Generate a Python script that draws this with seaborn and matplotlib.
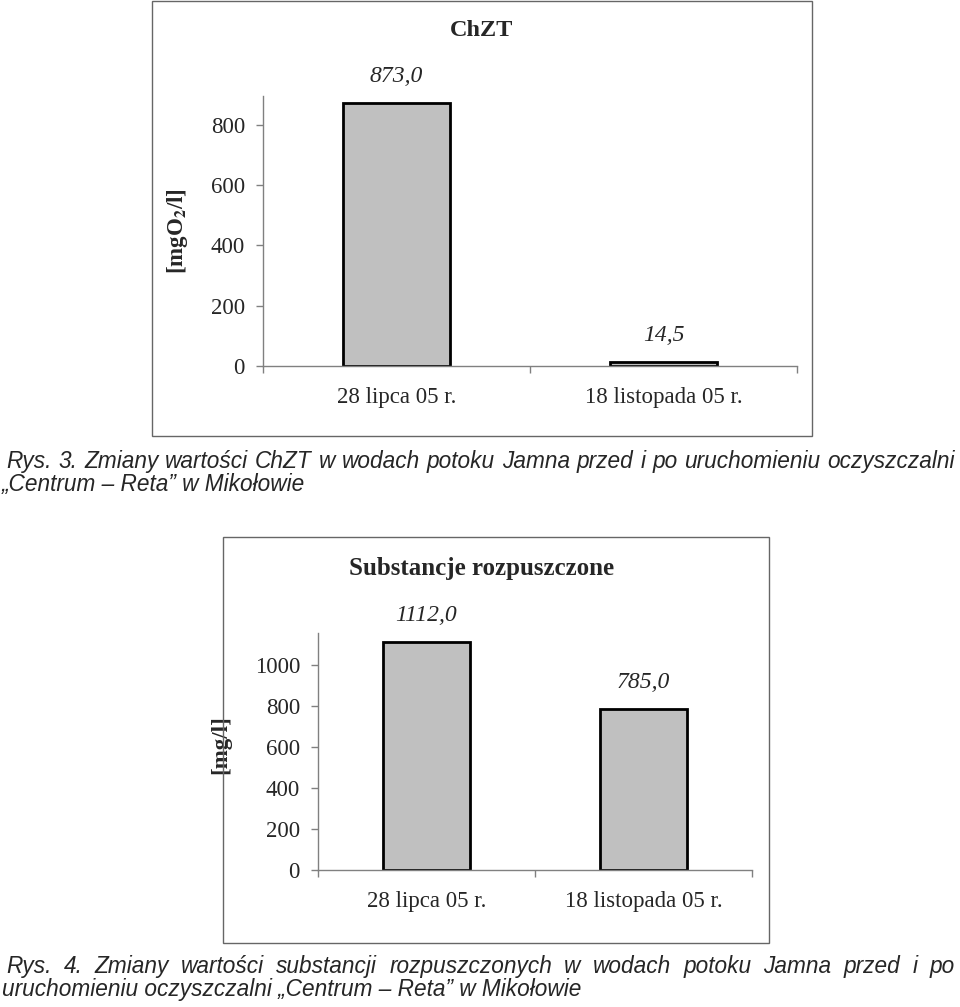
import matplotlib
matplotlib.use("Agg")
import matplotlib.pyplot as plt
import seaborn as sns
import pandas as pd
from matplotlib.patches import Rectangle

# ---------------- data ----------------
dates = ["28 lipca 05 r.", "18 listopada 05 r."]
chzt_values = [873.0, 14.5]
subst_values = [1112.0, 785.0]
chzt_title = "ChZT"
subst_title = "Substancje rozpuszczone"
chzt_ylabel = r"[mgO$_{\mathbf{2}}$/l]"
subst_ylabel = "[mg/l]"
chzt_ticks = [0, 200, 400, 600, 800]
subst_ticks = [0, 200, 400, 600, 800, 1000]
caption3 = ["Rys. 3. Zmiany wartości ChZT w wodach potoku Jamna przed i po uruchomieniu oczyszczalni",
            "„Centrum – Reta” w Mikołowie"]
caption4 = ["Rys. 4. Zmiany wartości substancji rozpuszczonych w wodach potoku Jamna przed i po",
            "uruchomieniu oczyszczalni „Centrum – Reta” w Mikołowie"]

sns.set_theme(style="white")
plt.rcParams["font.family"] = ["Liberation Serif", "DejaVu Serif"]
plt.rcParams["mathtext.fontset"] = "stix"

W, H = 960, 1007
fig = plt.figure(figsize=(W / 100, H / 100), dpi=100)
fig.patch.set_facecolor("white")

def fx(px):
    return px / W

def fy(py):
    return 1 - py / H

GRAY = "#808080"
TICK_FS = 16.5

def frame(x0, y0, x1, y1):
    fig.add_artist(Rectangle((fx(x0), fy(y1)), fx(x1) - fx(x0), fy(y0) - fy(y1),
                             transform=fig.transFigure, fill=False,
                             edgecolor="#666666", linewidth=1.0))

def chart(left, right, top, bottom, ymax, values, ticks, title, title_xy, title_fs,
          ylabel, ylab_x, ylab_y):
    ax = fig.add_axes([fx(left), fy(bottom), fx(right) - fx(left), (bottom - top) / H])
    df = pd.DataFrame({"date": dates, "value": values})
    sns.barplot(data=df, x="date", y="value", ax=ax, color="#C0C0C0",
                saturation=1, width=0.4, edgecolor="black", linewidth=2)
    for p in ax.patches:
        p.set_facecolor("#C0C0C0")
    ax.set_xlim(-0.5, 1.5)
    ax.set_ylim(0, ymax)
    ax.set_yticks(ticks)
    ax.set_yticklabels([str(t) for t in ticks], fontsize=TICK_FS)
    ax.set_xticks([0, 1])
    ax.set_xticklabels(dates, fontsize=TICK_FS)
    ax.set_xticks([-0.5, 0.5, 1.5], minor=True)
    ax.tick_params(axis="x", which="major", length=0, pad=15)
    ax.tick_params(axis="x", which="minor", length=5, width=1, color=GRAY, direction="out", bottom=True)
    ax.tick_params(axis="y", which="major", length=5, width=1, color=GRAY, direction="out", left=True, pad=8)
    for s in ["top", "right"]:
        ax.spines[s].set_visible(False)
    for s in ["left", "bottom"]:
        ax.spines[s].set_color(GRAY)
        ax.spines[s].set_linewidth(1)
    ax.set_xlabel("")
    ax.set_ylabel(ylabel, fontsize=16.5, fontweight="bold")
    ax.yaxis.set_label_coords(ylab_x, ylab_y)
    for i, v in enumerate(values):
        ax.annotate(f"{v:.1f}".replace(".", ","), (i, v), xytext=(0, 19),
                    textcoords="offset points", ha="center", va="center",
                    fontsize=17, fontstyle="italic")
    fig.text(fx(title_xy[0]), fy(title_xy[1]), title, ha="center", va="center",
             fontsize=title_fs, fontweight="bold")
    return ax

frame(152, 1, 812, 436)
chart(263, 797, 96, 366, 896, chzt_values, chzt_ticks, chzt_title, (482, 31), 17.5,
      chzt_ylabel, -0.137, 0.5)

frame(223, 537, 769, 943)
chart(318, 752, 633, 870, 1156, subst_values, subst_ticks, subst_title, (482, 568), 18,
      subst_ylabel, -0.2, 0.53)

# ---------------- captions ----------------
cap_kw = dict(fontsize=16.3, fontstyle="italic", family=["Liberation Sans", "DejaVu Sans"],
              va="baseline", ha="left")

renderer = fig.canvas.get_renderer()

def justified(line, y, x0, x1):
    words = line.split(" ")
    texts = [fig.text(0, fy(y), w, **cap_kw) for w in words]
    widths = [t.get_window_extent(renderer=renderer).width for t in texts]
    gap = (x1 - x0 - sum(widths)) / (len(words) - 1)
    x = x0
    for t, w in zip(texts, widths):
        t.set_x(fx(x))
        x += w + gap

def plain(line, y, x0):
    fig.text(fx(x0), fy(y), line, **cap_kw)

justified(caption3[0], 468, 6, 955)
plain(caption3[1], 491, 2)
justified(caption4[0], 973, 6, 955)
plain(caption4[1], 996, 2)

fig.savefig("out.png", dpi=100, facecolor="white")
